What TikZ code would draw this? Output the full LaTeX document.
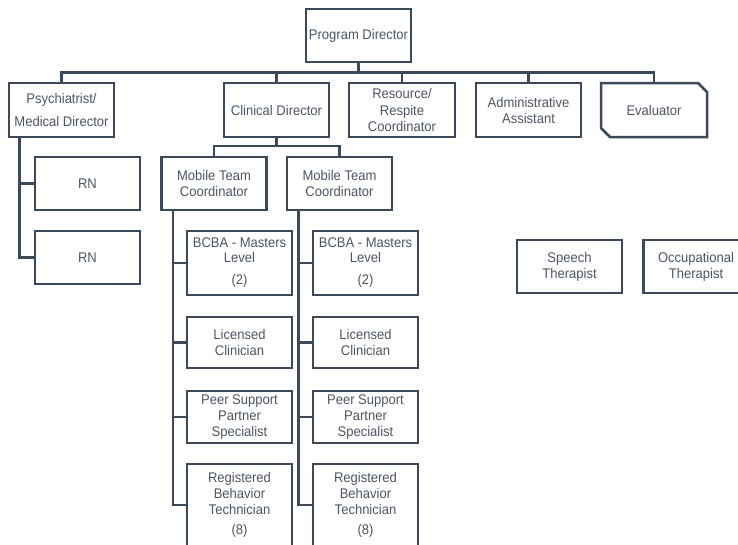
\documentclass[tikz,border=0pt]{standalone}
\usepackage{fontspec}
\setmainfont{Liberation Sans}[FakeStretch=0.93]
\definecolor{ln}{RGB}{59,73,91}
\definecolor{tx}{RGB}{75,85,99}
\begin{document}
\begin{tikzpicture}[x=1pt,y=-1pt,
  box/.style={draw=ln, line width=2.5pt, minimum width=105pt, minimum height=53pt,
    inner sep=0pt, outer sep=0pt, align=center, text=tx,
    font=\fontsize{14}{16}\selectfont},
  conn/.style={draw=ln, line width=2.5pt}]
\useasboundingbox (0,0) rectangle (738,544);

% top level
\node[box] (pd) at (358.5,35.5) {Program Director};
\node[box, minimum height=54pt] (psy) at (61.5,110) {Psychiatrist/\\[6.7pt]Medical Director};
\node[box, minimum height=54pt] (cd) at (276.5,110) {Clinical Director};
\node[box, minimum height=54pt, minimum width=106pt] (res) at (402,110) {Resource/\\[0.7pt]Respite\\[0.7pt]Coordinator};
\node[box, minimum height=54pt] (adm) at (528.5,110) {Administrative\\Assistant};
\node[box, draw=none, minimum height=54pt, minimum width=106pt] (ev) at (654,110) {Evaluator};
\draw[conn] (ev.north west) -- ([xshift=-9pt]ev.north east) -- ([yshift=-9pt]ev.north east)
  -- (ev.south east) -- ([xshift=9pt]ev.south west) -- ([yshift=9pt]ev.south west) -- cycle;

% RN
\node[box] (rn1) at (87.5,183.5) {RN};
\node[box] (rn2) at (87.5,257.5) {RN};

% mobile teams
\node[box] (mtc1) at (214,183.5) {Mobile Team\\Coordinator};
\node[box] (mtc2) at (339.5,183.5) {Mobile Team\\Coordinator};

\node[box, minimum height=64pt] (bcba1) at (239.5,263) {BCBA - Masters\\[-1pt]Level\\[6pt](2)};
\node[box, minimum height=64pt] (bcba2) at (365.5,263) {BCBA - Masters\\[-1pt]Level\\[6pt](2)};
\node[box, minimum height=51pt] (lic1) at (239.5,342.5) {Licensed\\Clinician};
\node[box, minimum height=51pt] (lic2) at (365.5,342.5) {Licensed\\Clinician};
\node[box, minimum height=52pt] (peer1) at (239.5,417) {Peer Support\\Partner\\Specialist};
\node[box, minimum height=52pt] (peer2) at (365.5,417) {Peer Support\\Partner\\Specialist};
\node[box, minimum height=82pt] (reg1) at (239.5,505) {Registered\\Behavior\\Technician\\[4pt](8)};
\node[box, minimum height=82pt] (reg2) at (365.5,505) {Registered\\Behavior\\Technician\\[4pt](8)};

% therapists
\node[box] (sp) at (569.5,266.5) {Speech\\Therapist};
\node[box] (occ) at (696,266.5) {Occupational\\Therapist};

% connectors: top bus
\draw[conn] (pd.south) -- ++(0,10.5) coordinate (bus);
\draw[conn] (psy.north) |- (bus) -| (ev.north);
\draw[conn] (cd.north) |- (bus);
\draw[conn] (res.north) |- (bus);
\draw[conn] (adm.north) |- (bus);

% clinical director bus
\draw[conn] (cd.south) -- ++(0,9) coordinate (cdbus);
\draw[conn] (mtc1.north) |- (cdbus) -| (mtc2.north);

% psychiatrist leg
\coordinate (psyleg) at ([xshift=10.5pt]psy.south west);
\draw[conn] (psyleg) |- (rn2.west);
\draw[conn] (psyleg |- rn1.west) -- (rn1.west);

% mobile team legs
\coordinate (m1leg) at ([xshift=11.5pt]mtc1.south west);
\draw[conn] (m1leg) |- (reg1.west);
\draw[conn] (m1leg |- bcba1.west) -- (bcba1.west);
\draw[conn] (m1leg |- lic1.west) -- (lic1.west);
\draw[conn] (m1leg |- peer1.west) -- (peer1.west);

\coordinate (m2leg) at ([xshift=11.5pt]mtc2.south west);
\draw[conn] (m2leg) |- (reg2.west);
\draw[conn] (m2leg |- bcba2.west) -- (bcba2.west);
\draw[conn] (m2leg |- lic2.west) -- (lic2.west);
\draw[conn] (m2leg |- peer2.west) -- (peer2.west);
\end{tikzpicture}
\end{document}
